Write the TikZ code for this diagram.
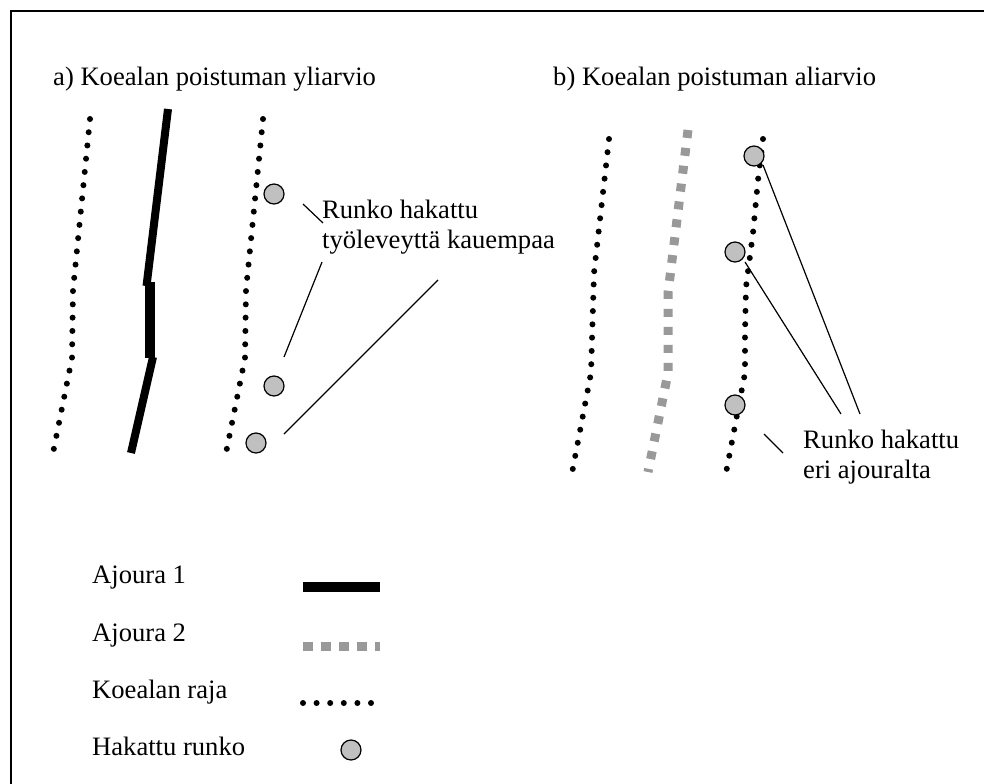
\documentclass[tikz,border=0pt]{standalone}
\usepackage{fontspec}
\setmainfont{Liberation Serif}
\definecolor{trackgray}{RGB}{153,153,153}
\definecolor{stemfill}{RGB}{192,192,192}
\begin{document}
\begin{tikzpicture}[x=1pt,y=-1pt,
  lbl/.style={anchor=base west,inner sep=0pt,font=\fontsize{26.6}{30}\selectfont},
  track1/.style={line width=8pt,line join=miter},
  track2/.style={line width=9pt,trackgray,dash pattern=on 8pt off 10pt},
  plotedge/.style={line width=6pt,line cap=round,dash pattern=on 0pt off 13.3pt},
  stem/.style={circle,draw,line width=1.2pt,fill=stemfill,minimum size=20pt,inner sep=0pt},
  pointer/.style={line width=1.2pt}]
\useasboundingbox (0,0) rectangle (985,784);
\fill[white] (0,0) rectangle (985,784);
% frame
\draw[line width=2pt] (11,784) -- (11,11) -- (984,11);

% titles
\node[lbl] (ta) at (53,85) {a) Koealan poistuman yliarvio};
\node[lbl] (tb) at (553,85) {b) Koealan poistuman aliarvio};

% panel a
\draw[plotedge] (90,119) -- (73,290) -- (72,358) -- (53,453);
\draw[track1] (168,109) -- (146.5,286);
\draw[line width=10pt] (150,282) -- (150,358);
\draw[track1] (153,357) -- (131,453);
\draw[plotedge] (263,119) -- (246,290) -- (245,358) -- (226,453);
\node[stem] (sa1) at (274,194) {};
\node[stem] (sa2) at (274,386) {};
\node[stem] (sa3) at (256,443) {};
\node[lbl] (la1) at (322,218) {Runko hakattu};
\node[lbl] (la2) at (322,248) {työleveyttä kauempaa};
\coordinate (pa1s) at (303,204); \coordinate (pa1e) at (323,223);
\coordinate (pa2s) at (322,262); \coordinate (pa2e) at (284,357);
\coordinate (pa3s) at (438,280); \coordinate (pa3e) at (284,434);
\draw[pointer] (pa1s) -- (pa1e);
\draw[pointer] (pa2s) -- (pa2e);
\draw[pointer] (pa3s) -- (pa3e);

% panel b
\draw[plotedge] (609,139) -- (594,273) -- (591,373) -- (572,473);
\draw[track2] (688,130) -- (668,293) -- (668,373) -- (648,472);
\draw[plotedge] (763,139) -- (758,180) -- (753,233) -- (746,287) -- (745,333) -- (745,373) -- (726,473);
\node[stem] (sb1) at (754,156) {};
\node[stem] (sb2) at (735,252) {};
\node[stem] (sb3) at (735,405) {};
\node[lbl] (lb1) at (803,448) {Runko hakattu};
\node[lbl] (lb2) at (803,478) {eri ajouralta};
\coordinate (pb1s) at (763,165); \coordinate (pb1e) at (860,414);
\coordinate (pb2s) at (745,262); \coordinate (pb2e) at (841,414);
\coordinate (pb3s) at (764,434); \coordinate (pb3e) at (783,453);
\draw[pointer] (pb1s) -- (pb1e);
\draw[pointer] (pb2s) -- (pb2e);
\draw[pointer] (pb3s) -- (pb3e);

% legend
\node[lbl] (k1) at (92,583) {Ajoura 1};
\node[lbl] (k2) at (92,641) {Ajoura 2};
\node[lbl] (k3) at (92,698) {Koealan raja};
\node[lbl] (k4) at (92,755) {Hakattu runko};
\draw[line width=10pt] (303,587) -- (380,587);
\draw[track2,dash pattern=on 10pt off 8pt] (303,646) -- (380,646);
\draw[plotedge,dash pattern=on 0pt off 13.6pt] (303,703) -- (371,703);
\node[stem] (s4) at (351,750) {};
\end{tikzpicture}
\end{document}
